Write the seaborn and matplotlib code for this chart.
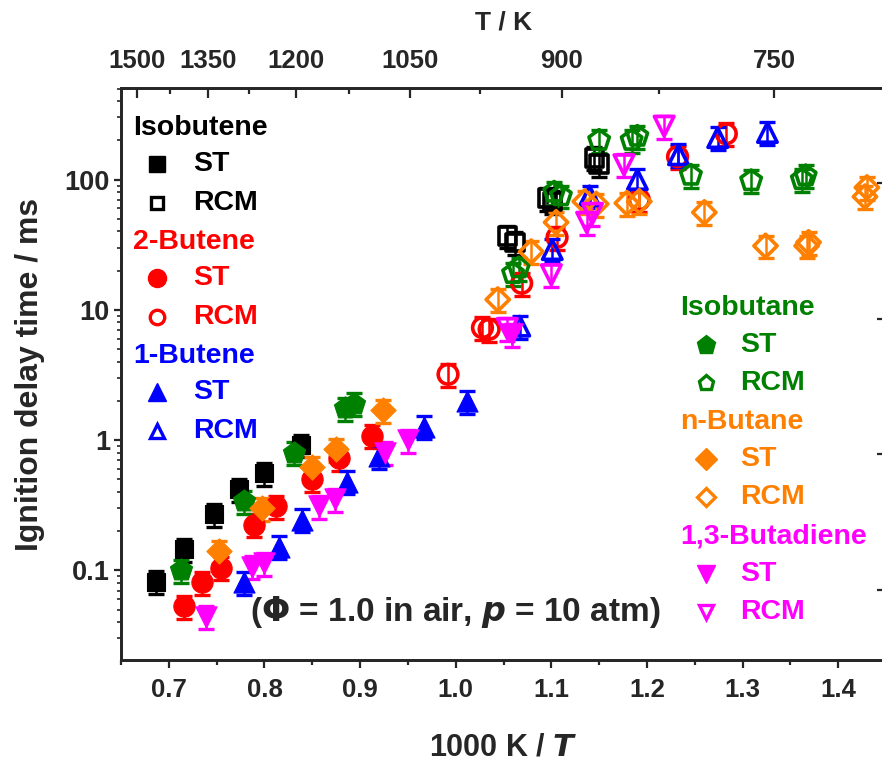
import numpy as np
import pandas as pd
import matplotlib
matplotlib.use("Agg")
import matplotlib.pyplot as plt
from matplotlib import font_manager
from matplotlib.ticker import FixedLocator, NullFormatter, NullLocator
import seaborn as sns

# ---------------- data (1000 K / T, ignition delay in ms) ----------------
isobutene_st_x = [0.687, 0.716, 0.747, 0.773, 0.800, 0.838]
isobutene_st_y = [0.082, 0.145, 0.27, 0.42, 0.56, 0.92]
isobutene_rcm_x = [1.054, 1.062, 1.096, 1.101, 1.145, 1.150]
isobutene_rcm_y = [37, 33, 72, 68, 147, 132]

butene2_st_x = [0.716, 0.735, 0.755, 0.789, 0.812, 0.850, 0.878, 0.913]
butene2_st_y = [0.053, 0.081, 0.105, 0.224, 0.31, 0.50, 0.73, 1.08]
butene2_rcm_x = [0.992, 1.028, 1.035, 1.069, 1.106, 1.192, 1.232, 1.283]
butene2_rcm_y = [3.2, 7.3, 7.1, 16, 36, 70, 150, 225]

butene1_st_x = [0.779, 0.815, 0.839, 0.886, 0.920, 0.967, 1.012]
butene1_st_y = [0.081, 0.152, 0.245, 0.48, 0.75, 1.27, 2.0]
butene1_rcm_x = [1.067, 1.101, 1.140, 1.190, 1.233, 1.274, 1.326]
butene1_rcm_y = [7.5, 29, 75, 100, 155, 210, 230]

isobutane_st_x = [0.713, 0.779, 0.831, 0.884, 0.894]
isobutane_st_y = [0.100, 0.34, 0.80, 1.75, 1.9]
isobutane_rcm_x = [1.060, 1.066, 1.103, 1.110, 1.150, 1.184, 1.190, 1.246, 1.309, 1.362, 1.366]
isobutane_rcm_y = [19, 21, 80, 75, 200, 200, 215, 108, 98, 100, 107]

nbutane_st_x = [0.753, 0.797, 0.850, 0.875, 0.924]
nbutane_st_y = [0.14, 0.30, 0.62, 0.85, 1.7]
nbutane_rcm_x = [1.044, 1.079, 1.105, 1.135, 1.147, 1.179, 1.192, 1.260, 1.324, 1.367, 1.369, 1.428, 1.430]
nbutane_rcm_y = [12, 28, 47, 68, 65, 66, 68, 56, 31, 31, 33, 74, 87]

butadiene_st_x = [0.739, 0.787, 0.800, 0.857, 0.874, 0.926, 0.950, 1.059]
butadiene_st_y = [0.044, 0.107, 0.114, 0.31, 0.35, 0.80, 1.0, 6.5]
butadiene_rcm_x = [1.054, 1.100, 1.137, 1.143, 1.176, 1.218]
butadiene_rcm_y = [7.2, 18.6, 47, 55, 130, 257]

rel_error = 0.2

fuels = ["Isobutene", "2-Butene", "1-Butene", "Isobutane", "n-Butane", "1,3-Butadiene"]
colors = ["#000000", "#FF0000", "#0000FF", "#008000", "#FF8000", "#FF00FF"]
markers = ["s", "o", "^", "p", "D", "v"]
sizes = [185, 235, 230, 280, 165, 235]

st_data = [(isobutene_st_x, isobutene_st_y), (butene2_st_x, butene2_st_y),
           (butene1_st_x, butene1_st_y), (isobutane_st_x, isobutane_st_y),
           (nbutane_st_x, nbutane_st_y), (butadiene_st_x, butadiene_st_y)]
rcm_data = [(isobutene_rcm_x, isobutene_rcm_y), (butene2_rcm_x, butene2_rcm_y),
            (butene1_rcm_x, butene1_rcm_y), (isobutane_rcm_x, isobutane_rcm_y),
            (nbutane_rcm_x, nbutane_rcm_y), (butadiene_rcm_x, butadiene_rcm_y)]

T_major = [1500, 1350, 1200, 1050, 900, 750]
T_minor = [1425, 1275, 1125, 975, 825]
x_major = [0.7, 0.8, 0.9, 1.0, 1.1, 1.2, 1.3, 1.4]
x_minor = [0.65, 0.75, 0.85, 0.95, 1.05, 1.15, 1.25, 1.35, 1.45]
y_major = [0.1, 1, 10, 100]
y_labels = ["0.1", "1", "10", "100"]

# ---------------- style ----------------
sns.set_style("ticks")
names = {f.name for f in font_manager.fontManager.ttflist}
narrow = "Liberation Sans Narrow" if "Liberation Sans Narrow" in names else "Liberation Sans"
plt.rcParams["font.family"] = ["Liberation Sans", "DejaVu Sans"]
plt.rcParams["font.weight"] = "bold"
plt.rcParams["axes.linewidth"] = 1.8

W, H = 882, 763
fig = plt.figure(figsize=(W / 100, H / 100), dpi=100)
ax = fig.add_axes([121 / W, 1 - 660 / H, (886 - 121) / W, (660 - 88) / H])
ax.set_xscale("linear")
ax.set_yscale("log")
ax.set_xlim(0.65, 1.45)
ax.set_ylim(0.0205, 505)


def draw_series(x, y, color, marker, size, filled):
    x = np.asarray(x, float)
    y = np.asarray(y, float)
    ax.errorbar(x, y, yerr=rel_error * y, fmt="none", ecolor=color,
                elinewidth=1.8, capsize=6, capthick=2.4, zorder=2)
    df = pd.DataFrame({"x": x, "y": y})
    if filled:
        sns.scatterplot(data=df, x="x", y="y", ax=ax, marker=marker, s=size,
                        color=color, edgecolor=color, linewidth=0.8, zorder=3,
                        legend=False)
    else:
        sns.scatterplot(data=df, x="x", y="y", ax=ax, marker=marker, s=size * 0.85,
                        facecolors="none", edgecolor=color, linewidth=2.6,
                        zorder=3, legend=False)


for (sx, sy), (rx, ry), c, m, s in zip(st_data, rcm_data, colors, markers, sizes):
    draw_series(sx, sy, c, m, s, True)
    draw_series(rx, ry, c, m, s, False)

# ---------------- axes and ticks ----------------
ax.xaxis.set_major_locator(FixedLocator(x_major))
ax.xaxis.set_minor_locator(FixedLocator(x_minor))
ax.set_xticklabels([f"{v:.1f}" for v in x_major], fontfamily=narrow,
                   fontsize=18.5, fontweight="bold")
ax.yaxis.set_major_locator(FixedLocator(y_major))
ax.set_yticklabels(y_labels, fontsize=19.5, fontweight="bold")
ax.yaxis.set_minor_formatter(NullFormatter())
ax.tick_params(axis="x", which="major", direction="out", length=6, width=1.6, pad=7)
ax.tick_params(axis="x", which="minor", direction="out", length=3.5, width=1.6)
ax.tick_params(axis="y", which="major", direction="out", length=5, width=1.6, pad=3)
ax.tick_params(axis="y", which="minor", direction="out", length=3, width=1.2)
ax.set_xlabel("")
ax.set_ylabel("")
sns.despine(ax=ax, top=False, right=False)

ax.set_ylabel("Ignition delay time / ms", fontsize=23, fontweight="bold", labelpad=14)
ax.set_xlabel(r"1000 K / $\bfit{T}$", fontsize=22, fontweight="bold",
              fontfamily=narrow, labelpad=22)

# top temperature axis
axt = ax.twiny()
axt.set_xlim(ax.get_xlim())
axt.xaxis.set_major_locator(FixedLocator([1000 / t for t in T_major]))
axt.xaxis.set_minor_locator(FixedLocator([1000 / t for t in T_minor]))
axt.set_xticklabels([str(t) for t in T_major], fontfamily=narrow, fontsize=18.5,
                    fontweight="bold")
axt.tick_params(axis="x", which="major", direction="in", length=7, width=1.6, pad=11)
axt.tick_params(axis="x", which="minor", direction="in", length=4, width=1.6)
axt.set_xlabel("T / K", fontfamily=narrow, fontsize=19, fontweight="bold", labelpad=14)

# right-hand tick marks
axr = ax.twinx()
axr.set_yscale("log")
axr.set_ylim(0.0305, 501)
axr.yaxis.set_major_locator(FixedLocator(y_major))
axr.yaxis.set_minor_locator(NullLocator())
axr.yaxis.set_major_formatter(NullFormatter())
axr.tick_params(axis="y", which="major", direction="in", length=6.5, width=1.6)

# ---------------- legend blocks ----------------
def fxy(px, py):
    return px / W, 1 - py / H


def legend_block(hx, mx, lx, hy, rows, fuel, color, marker, msize):
    fig.text(*fxy(hx, hy), fuel, color=color, fontsize=20.5, fontweight="bold",
             ha="left", va="center")
    for (label, py), filled in zip(rows, (True, False)):
        x0, y0 = fxy(mx, py)
        if filled:
            fig.lines.append(plt.Line2D([x0], [y0], marker=marker, markersize=msize,
                                        color=color, markeredgecolor=color,
                                        linestyle="none", transform=fig.transFigure))
        else:
            fig.lines.append(plt.Line2D([x0], [y0], marker=marker,
                                        markersize=msize * 0.8,
                                        markerfacecolor="none", markeredgecolor=color,
                                        markeredgewidth=2.4, linestyle="none",
                                        transform=fig.transFigure))
        fig.text(*fxy(lx, py), label, color=color, fontsize=20.5, fontweight="bold",
                 ha="left", va="center")


left_heads = [128, 242, 356]
right_heads = [308, 422, 537]
leg_sizes = [11, 13, 13, 14, 11.5, 13]
for i in range(3):
    hy = left_heads[i]
    legend_block(133, 157, 193, hy, [("ST", hy + 36), ("RCM", hy + 75)],
                 fuels[i], colors[i], markers[i], leg_sizes[i])
for i in range(3):
    hy = right_heads[i]
    legend_block(680, 706, 740, hy, [("ST", hy + 37), ("RCM", hy + 75)],
                 fuels[i + 3], colors[i + 3], markers[i + 3], leg_sizes[i + 3])

fig.text(*fxy(455, 612), r"($\mathbf{\Phi}$ = 1.0 in air, $\bfit{p}$ = 10 atm)",
         fontsize=24, fontweight="bold", ha="center", va="center")

fig.savefig("out.png", dpi=100)
